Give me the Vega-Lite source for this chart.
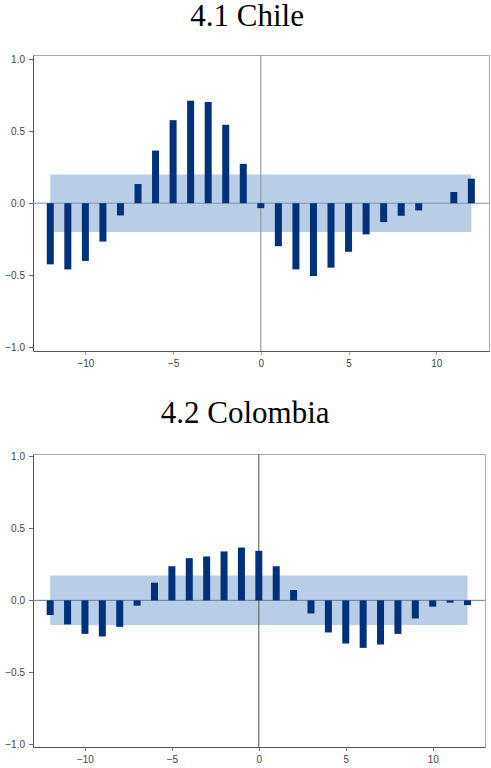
{
  "$schema": "https://vega.github.io/schema/vega-lite/v6.json",
  "padding": {"left": 4, "top": 0, "right": 0, "bottom": 0},
  "spacing": 28,
  "background": "white",
  "config": {
    "view": {"stroke": "#aaaaaa", "strokeWidth": 1},
    "title": {"font": "Liberation Serif", "fontSize": 31, "fontWeight": "normal", "color": "#000000", "anchor": "middle", "frame": "bounds", "baseline": "alphabetic", "offset": 21},
    "axis": {"grid": false, "labelFont": "Liberation Sans", "labelFontSize": 10, "labelColor": "#444444", "tickColor": "#666666", "tickSize": 4.5, "domainColor": "#555555", "title": null}
  },
  "datasets": {
    "chile": [
      {"lag": -12, "ccf": -0.424}, {"lag": -11, "ccf": -0.459}, {"lag": -10, "ccf": -0.400},
      {"lag": -9, "ccf": -0.266}, {"lag": -8, "ccf": -0.085}, {"lag": -7, "ccf": 0.133},
      {"lag": -6, "ccf": 0.365}, {"lag": -5, "ccf": 0.576}, {"lag": -4, "ccf": 0.711},
      {"lag": -3, "ccf": 0.702}, {"lag": -2, "ccf": 0.544}, {"lag": -1, "ccf": 0.273},
      {"lag": 0, "ccf": -0.034}, {"lag": 1, "ccf": -0.298}, {"lag": 2, "ccf": -0.459},
      {"lag": 3, "ccf": -0.505}, {"lag": 4, "ccf": -0.447}, {"lag": 5, "ccf": -0.337},
      {"lag": 6, "ccf": -0.216}, {"lag": 7, "ccf": -0.131}, {"lag": 8, "ccf": -0.087},
      {"lag": 9, "ccf": -0.050}, {"lag": 10, "ccf": 0.0}, {"lag": 11, "ccf": 0.078},
      {"lag": 12, "ccf": 0.170}
    ],
    "colombia": [
      {"lag": -12, "ccf": -0.102}, {"lag": -11, "ccf": -0.167}, {"lag": -10, "ccf": -0.233},
      {"lag": -9, "ccf": -0.251}, {"lag": -8, "ccf": -0.184}, {"lag": -7, "ccf": -0.037},
      {"lag": -6, "ccf": 0.123}, {"lag": -5, "ccf": 0.237}, {"lag": -4, "ccf": 0.293},
      {"lag": -3, "ccf": 0.305}, {"lag": -2, "ccf": 0.340}, {"lag": -1, "ccf": 0.367},
      {"lag": 0, "ccf": 0.344}, {"lag": 1, "ccf": 0.237}, {"lag": 2, "ccf": 0.072},
      {"lag": 3, "ccf": -0.091}, {"lag": 4, "ccf": -0.223}, {"lag": 5, "ccf": -0.300},
      {"lag": 6, "ccf": -0.330}, {"lag": 7, "ccf": -0.307}, {"lag": 8, "ccf": -0.233},
      {"lag": 9, "ccf": -0.126}, {"lag": 10, "ccf": -0.044}, {"lag": 11, "ccf": -0.016},
      {"lag": 12, "ccf": -0.033}
    ],
    "bandChile": [{"from": -12, "to": 12, "lo": -0.2, "hi": 0.2}],
    "bandColombia": [{"from": -12, "to": 12, "lo": -0.172, "hi": 0.172}]
  },
  "vconcat": [
    {
      "title": "4.1 Chile",
      "width": 456,
      "height": 296,
      "layer": [
        {
          "data": {"name": "bandChile"},
          "mark": {"type": "rect", "color": "#b9cde6"},
          "encoding": {
            "x": {"field": "from", "type": "quantitative", "scale": {"domain": [-12.7, 12.72], "nice": false, "zero": false},
                  "axis": {"values": [-10, -5, 0, 5, 10], "labelPadding": 4, "tickColor": "#aaaaaa", "tickSize": 3.5}},
            "x2": {"field": "to"},
            "y": {"field": "lo", "type": "quantitative", "scale": {"domain": [-1.025, 1.028], "nice": false},
                  "axis": {"values": [-1, -0.5, 0, 0.5, 1], "format": ".1f", "labelPadding": 4}},
            "y2": {"field": "hi"}
          }
        },
        {
          "data": {"name": "bandChile"},
          "mark": {"type": "rule", "color": "#7a93b8", "strokeWidth": 1},
          "encoding": {"y": {"datum": 0, "type": "quantitative"}}
        },
        {
          "data": {"name": "bandChile"},
          "mark": {"type": "rule", "color": "#8c8c8c", "strokeWidth": 1},
          "encoding": {"x": {"datum": 0, "type": "quantitative"}}
        },
        {
          "data": {"name": "chile"},
          "mark": {"type": "bar", "color": "#00317a", "size": 7},
          "encoding": {
            "x": {"field": "lag", "type": "quantitative"},
            "y": {"field": "ccf", "type": "quantitative"},
            "y2": {"datum": 0}
          }
        }
      ]
    },
    {
      "title": "4.2 Colombia",
      "width": 452,
      "height": 293,
      "layer": [
        {
          "data": {"name": "bandColombia"},
          "mark": {"type": "rect", "color": "#b9cde6"},
          "encoding": {
            "x": {"field": "from", "type": "quantitative", "scale": {"domain": [-12.7, 12.72], "nice": false, "zero": false},
                  "axis": {"values": [-10, -5, 0, 5, 10], "labelPadding": 4, "tickColor": "#777777", "tickSize": 3.5}},
            "x2": {"field": "to"},
            "y": {"field": "lo", "type": "quantitative", "scale": {"domain": [-1.019, 1.017], "nice": false},
                  "axis": {"values": [-1, -0.5, 0, 0.5, 1], "format": ".1f", "labelPadding": 4}},
            "y2": {"field": "hi"}
          }
        },
        {
          "data": {"name": "bandColombia"},
          "mark": {"type": "rule", "color": "#5f7fab", "strokeWidth": 1},
          "encoding": {"y": {"datum": 0, "type": "quantitative"}}
        },
        {
          "data": {"name": "bandColombia"},
          "mark": {"type": "rule", "color": "#555555", "strokeWidth": 1},
          "encoding": {"x": {"datum": 0, "type": "quantitative"}}
        },
        {
          "data": {"name": "colombia"},
          "mark": {"type": "bar", "color": "#00317a", "size": 7},
          "encoding": {
            "x": {"field": "lag", "type": "quantitative"},
            "y": {"field": "ccf", "type": "quantitative"},
            "y2": {"datum": 0}
          }
        }
      ]
    }
  ]
}
